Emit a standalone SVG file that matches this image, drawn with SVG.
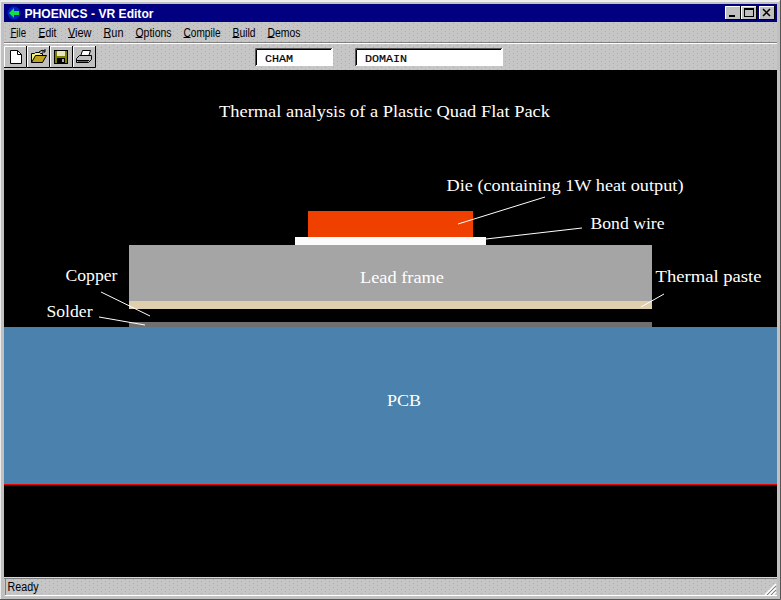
<svg xmlns="http://www.w3.org/2000/svg" width="781" height="600" viewBox="0 0 781 600">
<style>
text{white-space:pre}
.lbl{font-family:"Liberation Serif","Times New Roman",serif;font-size:17px;fill:#fff}
.menu{font-family:"Liberation Sans",Arial,sans-serif;font-size:12px;fill:#000}
.mono{font-family:"Liberation Mono","Courier New",monospace;font-size:11px;fill:#000;stroke:#000;stroke-width:.2}
.lead{stroke:#fff;stroke-width:1;fill:none}
.hi{stroke:#fff;fill:none}.lo{stroke:#808080;fill:none}.dk{stroke:#000;fill:none}
</style>
<defs>
<pattern id="dots" width="8" height="4" patternUnits="userSpaceOnUse">
<rect width="8" height="4" fill="#c6c6c6"/>
<rect x="1" y="1" width="1" height="1" fill="#aeaeae"/>
<rect x="5" y="3" width="1" height="1" fill="#aeaeae"/>
</pattern>
</defs>
<rect id="frame" width="781" height="600" fill="#c0c0c0"/>
<path d="M0.500 599V0.500H780" class="hi" stroke-opacity="0.700"/>
<path d="M780.500 0V599.500H0" stroke="#555" fill="none"/>
<path d="M1 1.500H779" stroke="#eee" fill="none"/>
<g id="titlebar">
<rect x="4" y="4" width="773" height="18" fill="#000080"/>
<circle cx="14" cy="13" r="6.500" fill="#0020c0"/>
<path d="M9 13l5-5v3h5v4h-5v3z" fill="#10e040"/>
<text x="24.500" y="18" font-family="'Liberation Sans',Arial,sans-serif" font-size="13" font-weight="700" fill="#fff" textLength="129" lengthAdjust="spacingAndGlyphs">PHOENICS - VR Editor</text>
<g id="btn-min"><rect x="725" y="6" width="15" height="13" fill="#c0c0c0"/><path d="M725.500 19V6.500H740" class="hi"/><path d="M740.500 6V19.500H725" class="dk"/><rect x="729" y="15" width="6" height="2" fill="#000"/></g>
<g id="btn-max"><rect x="741" y="6" width="15" height="13" fill="#c0c0c0"/><path d="M741.500 19V6.500H756" class="hi"/><path d="M756.500 6V19.500H741" class="dk"/><rect x="744.500" y="8.500" width="9" height="8" fill="none" stroke="#000"/><path d="M744 9.500H754" stroke="#000"/></g>
<g id="btn-close"><rect x="759" y="6" width="15" height="13" fill="#c0c0c0"/><path d="M759.500 19V6.500H774" class="hi"/><path d="M774.500 6V19.500H759" class="dk"/><path d="M763 9l7 7M770 9l-7 7" stroke="#000" stroke-width="1.500"/></g>
</g>
<g id="menubar">
<rect x="4" y="22" width="773" height="20" fill="url(#dots)"/>
<text class="menu" x="10.500" y="36.500" textLength="15.500" lengthAdjust="spacingAndGlyphs">File</text><rect x="10.500" y="37" width="6" height="1"/>
<text class="menu" x="38.500" y="36.500" textLength="18" lengthAdjust="spacingAndGlyphs">Edit</text><rect x="38.500" y="37" width="6" height="1"/>
<text class="menu" x="68" y="36.500" textLength="23.500" lengthAdjust="spacingAndGlyphs">View</text><rect x="68" y="37" width="7" height="1"/>
<text class="menu" x="103.500" y="36.500" textLength="20" lengthAdjust="spacingAndGlyphs">Run</text><rect x="103.500" y="37" width="7" height="1"/>
<text class="menu" x="135.500" y="36.500" textLength="36" lengthAdjust="spacingAndGlyphs">Options</text><rect x="135.500" y="37" width="7" height="1"/>
<text class="menu" x="183.500" y="36.500" textLength="37" lengthAdjust="spacingAndGlyphs">Compile</text><rect x="183.500" y="37" width="7" height="1"/>
<text class="menu" x="232.500" y="36.500" textLength="23" lengthAdjust="spacingAndGlyphs">Build</text><rect x="232.500" y="37" width="7" height="1"/>
<text class="menu" x="267.500" y="36.500" textLength="33" lengthAdjust="spacingAndGlyphs">Demos</text><rect x="267.500" y="37" width="7" height="1"/>
</g>
<path d="M4 42.500H777" class="lo"/><path d="M4 43.500H777" class="hi"/>
<g id="toolbar">
<rect x="4" y="44" width="773" height="26" fill="url(#dots)"/>
<g transform="translate(-1 0)">
<g id="tb-new"><rect x="5" y="46" width="22" height="21" fill="#c0c0c0"/><path d="M5.500 67V46.500H27" class="hi"/><path d="M27.500 46V67.500H5" class="dk"/><path d="M11.500 50.500h7l4 4v9h-11z" fill="#fff" stroke="#000"/><path d="M18.500 50.500v4h4" fill="none" stroke="#000"/></g>
<g id="tb-open"><rect x="28" y="46" width="22" height="21" fill="#c0c0c0"/><path d="M28.500 67V46.500H50" class="hi"/><path d="M50.500 46V67.500H28" class="dk"/><path d="M32.500 62.500v-9h3l1-1h4l1 1h2v2" fill="#f0f080" stroke="#000"/><path d="M32.500 62.500l4-7h11l-4 7z" fill="#c0a020" stroke="#000"/><path d="M40 52q3-3 6-1M46 49v3h-3" fill="none" stroke="#000"/></g>
<g id="tb-save"><rect x="51" y="46" width="22" height="21" fill="#c0c0c0"/><path d="M51.500 67V46.500H73" class="hi"/><path d="M73.500 46V67.500H51" class="dk"/><rect x="55.500" y="50.500" width="13" height="13" fill="#808000" stroke="#000"/><rect x="58" y="51" width="8" height="5" fill="#e8e8c0"/><rect x="58" y="58" width="8" height="5" fill="#000"/><rect x="63" y="59" width="2" height="3" fill="#aaa"/></g>
<g id="tb-print"><rect x="74" y="46" width="22" height="21" fill="#c0c0c0"/><path d="M74.500 67V46.500H96" class="hi"/><path d="M96.500 46V67.500H74" class="dk"/><path d="M81.500 56.500l2-6h8l-2 6z" fill="#fff" stroke="#000"/><path d="M77.500 58.500l3-3h12v4l-3 3h-12z" fill="#c0c0c0" stroke="#000"/><path d="M78 60.500h12M79 62h10" stroke="#000"/></g>
</g>
<g id="field-cham"><rect x="255" y="48" width="78" height="18" fill="#fff"/><path d="M255.500 66V48.500H332" stroke="#555" fill="none"/><path d="M256.500 65V49.500H331" stroke="#000" fill="none"/><text class="mono" x="265" y="62" textLength="28" lengthAdjust="spacingAndGlyphs">CHAM</text></g>
<g id="field-domain"><rect x="355" y="48" width="148" height="18" fill="#fff"/><path d="M355.500 66V48.500H502" stroke="#555" fill="none"/><path d="M356.500 65V49.500H501" stroke="#000" fill="none"/><text class="mono" x="365" y="62" textLength="42" lengthAdjust="spacingAndGlyphs">DOMAIN</text></g>
</g>
<rect id="viewport" x="4" y="70" width="773" height="507" fill="#000"/>
<g id="package">
<rect id="pcb" x="4" y="327" width="773" height="157" fill="#4a82ad"/>
<rect id="pcb-edge" x="4" y="484" width="773" height="1" fill="#f00000"/>
<rect id="solder" x="129" y="322" width="523" height="5" fill="#707070"/>
<rect id="paste" x="129" y="301" width="523" height="8" fill="#dfcfaf"/>
<rect id="leadframe" x="129" y="245" width="523" height="56" fill="#a5a5a5"/>
<rect id="bondwire" x="295" y="237" width="191" height="8" fill="#fbfbfb"/>
<rect id="die" x="308" y="211" width="165" height="26" fill="#f04000"/>
</g>
<g id="connectors" class="lead">
<path class="lead" d="M458 224L545 197"/>
<path class="lead" d="M486 239L582 228"/>
<path class="lead" d="M101 292L150 316"/>
<path class="lead" d="M99 317L145 325"/>
<path class="lead" d="M641 307L664 294"/>
</g>
<g id="labels">
<text class="lbl" x="219" y="117" textLength="331" lengthAdjust="spacingAndGlyphs">Thermal analysis of a Plastic Quad Flat Pack</text>
<text class="lbl" x="446.500" y="191" textLength="237" lengthAdjust="spacingAndGlyphs">Die (containing 1W heat output)</text>
<text class="lbl" x="590.500" y="229" textLength="74" lengthAdjust="spacingAndGlyphs">Bond wire</text>
<text class="lbl" x="360" y="283" textLength="84" lengthAdjust="spacingAndGlyphs">Lead frame</text>
<text class="lbl" x="65.500" y="281" textLength="52" lengthAdjust="spacingAndGlyphs">Copper</text>
<text class="lbl" x="46.500" y="317" textLength="46" lengthAdjust="spacingAndGlyphs">Solder</text>
<text class="lbl" x="655.500" y="282" textLength="106" lengthAdjust="spacingAndGlyphs">Thermal paste</text>
<text class="lbl" x="387" y="406" textLength="34" lengthAdjust="spacingAndGlyphs">PCB</text>
</g>
<g id="statusbar">
<rect x="4" y="577" width="773" height="20" fill="url(#dots)"/>
<path d="M4 577.500H777" stroke="#d8d8d8"/><path d="M4 578.500H777" class="lo"/><path d="M5.500 595V579" class="lo"/><path d="M5 595.500H777" class="hi"/>
<text class="menu" x="7.500" y="591" textLength="31" lengthAdjust="spacingAndGlyphs">Ready</text>
<path d="M765 595l11-11M769 595l7-7M773 595l3-3" stroke="#fff" stroke-width="1.500"/>
<path d="M767 595l9-9M771 595l5-5" stroke="#808080"/>
</g>
</svg>
